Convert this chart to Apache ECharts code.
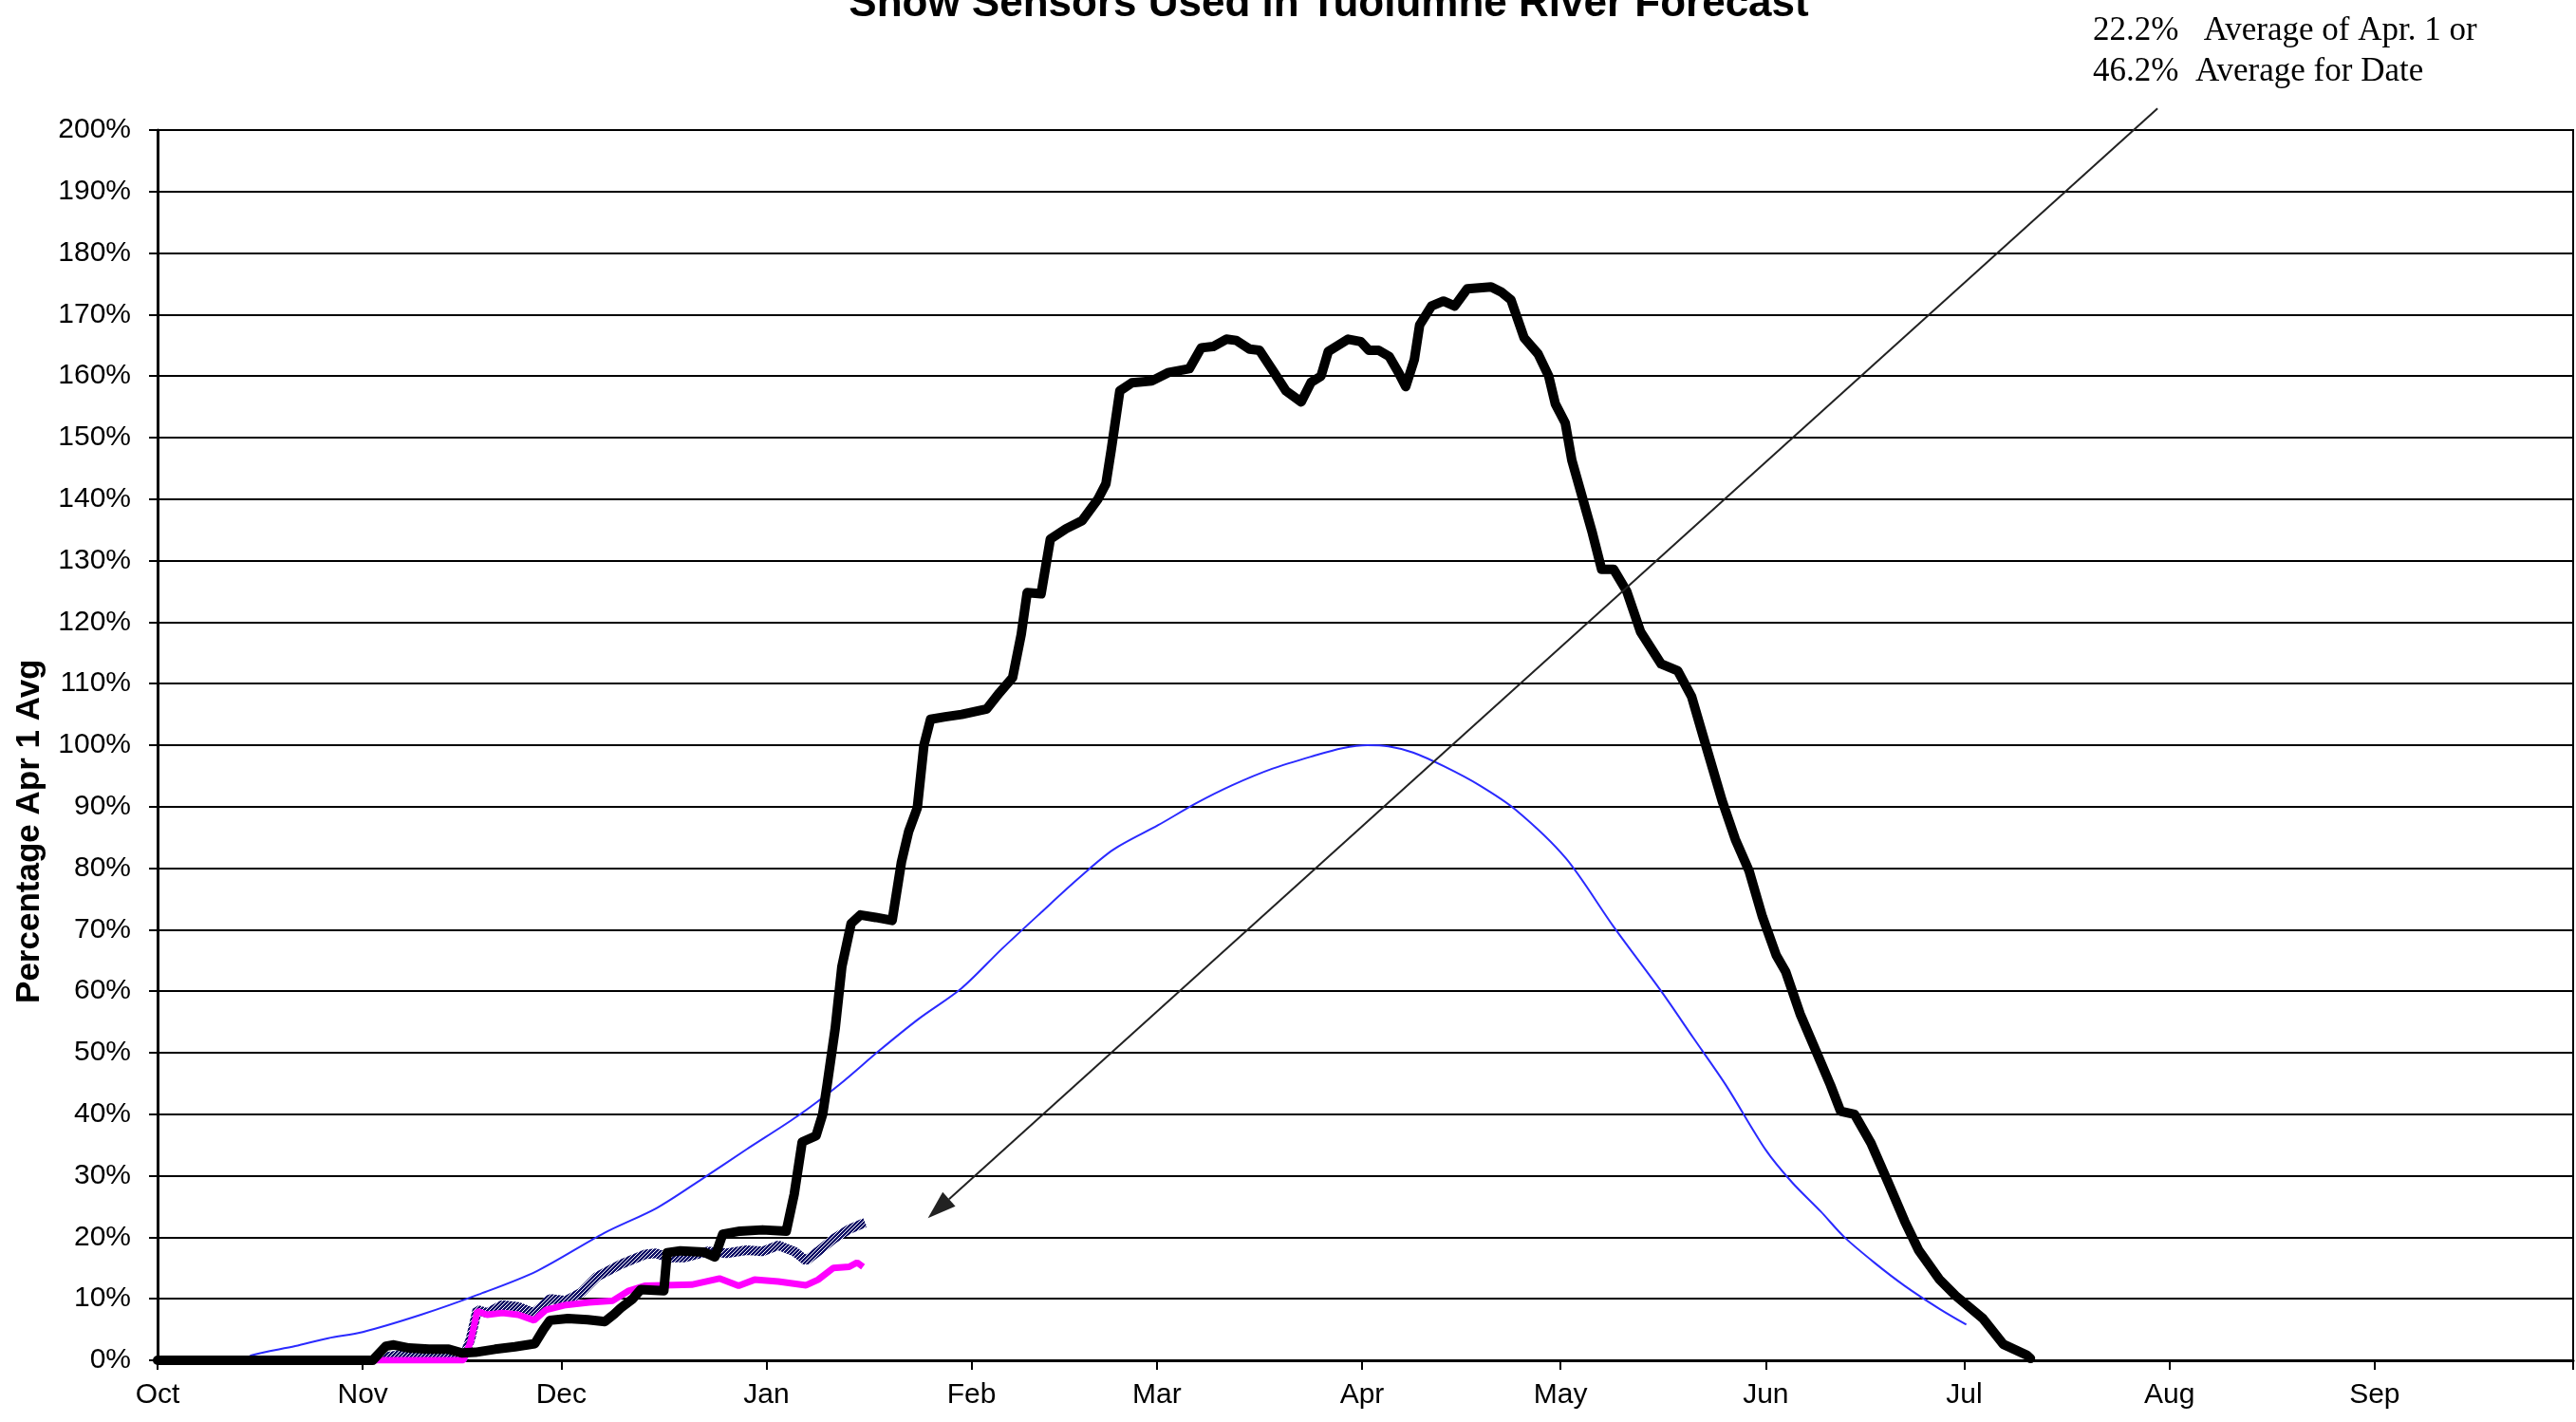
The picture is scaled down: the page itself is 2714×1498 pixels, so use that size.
<!DOCTYPE html>
<html>
<head>
<meta charset="utf-8">
<script src="https://cdn.jsdelivr.net/npm/echarts@6/dist/echarts.min.js"></script>
<style>
  html, body { margin: 0; padding: 0; background: #fff; }
  #chart { width: 2714px; height: 1498px; }
</style>
</head>
<body>
<div id="chart"></div>
<script>
// ---- Axis definitions (water year, day 0 = Oct 1) ----
const monthNames = ['Oct','Nov','Dec','Jan','Feb','Mar','Apr','May','Jun','Jul','Aug','Sep'];
const monthStartDays = [0,31,61,92,123,151,182,212,243,273,304,335,365];

// ---- Average (blue) ----
const avgDays = [13.4,14.2,20.8,25.8,31,39.8,48.5,57.3,67.5,75.5,82.3,89,96.7,103,109,115,121.5,127.5,133.5,139,144.4,151.2,157,162.4,168.5,174.8,179,182.8,186,189.7,194.5,199.7,205.2,212.8,220,227.2,232,237,243,247,251.3,254.9,259.5,264,269.2,273.3];
const avgPct  = [0,0.8,2.3,3.6,4.6,7.4,10.7,14.5,20.7,24.8,29.5,34.3,39.7,44.8,50.3,55.5,60.5,66.8,72.8,78.2,83,87,90.6,93.5,96.2,98.3,99.5,100,99.8,98.8,96.5,93.5,89.5,81.6,70.5,60,52.5,44.7,34.2,28.9,24.2,20,15.8,12.1,8.4,5.8];

// ---- Maximum year (thick black) ----
const maxDays = [0,31,32.5,34.5,35.7,38,41,44,46,48,51,54,57,58.3,59.3,62,65,67.6,69,70,71.8,73,76.5,77,79,82.5,84.2,85.4,88,91.4,95,96.2,97.4,99.5,100.5,101.2,102.4,103.4,104.8,106.2,108.5,111,112.4,113.5,114.8,115.8,116.8,119,121.5,125.3,127.2,129.2,130.5,131.4,133.5,134.9,137.3,139.7,142.1,143.3,144.1,145.4,147.2,150.2,152.8,155.9,157.7,159.5,161.5,163,165,166.5,168.7,170.5,172.8,174.3,175.8,176.9,178.4,179.9,181.8,183,184.5,186.1,187.6,188.6,189.9,190.7,192.5,194.3,196,197.9,201.5,203,204.5,206.5,208.6,210.2,211.2,212.7,213.7,215.2,216.8,218.2,220,222,224.1,227.2,229.7,231.8,233.8,236.4,238.4,240.5,242.5,244.6,246,248.2,250.7,252.8,254.3,256.4,258.9,261.5,264,266.1,269.2,271.7,275.8,278.9,282.5,283];
const maxPct  = [0,0,0,2.3,2.5,2,1.8,1.8,1.2,1.3,1.8,2.2,2.7,5,6.5,6.8,6.6,6.3,7.5,8.5,10,11.5,11.3,17.5,17.8,17.6,16.8,20.5,21,21.2,21,27,35.5,36.5,40,45,54,64,71,72.4,72,71.5,81,86,89.8,100,104.2,104.6,105,105.9,108.5,111,118,124.8,124.6,133.5,135.2,136.5,140,142.5,148,157.6,158.9,159.2,160.6,161.2,164.6,164.8,166,165.8,164.4,164.2,160.6,157.6,155.8,159,160,164,165,166,165.6,164.2,164.2,163.2,160.4,158.3,162.7,168.3,171.4,172.2,171.4,174.2,174.5,173.7,172.4,166.2,163.6,160,155.5,152.4,146.3,140.6,134.5,128.6,128.6,125,118.4,113.2,112.1,107.9,100.5,91,84.7,79.5,72.1,65.8,63.2,56.3,50,44.7,40.5,40,35.3,28.9,22.6,17.9,13.2,10.5,6.8,2.6,0.8,0.3];

// ---- Magenta series ----
const pinkDays = [33,46.2,47.3,48.3,49.8,52.1,54.5,56.9,58.7,61.7,65.2,68.8,71.2,73.6,76.5,80.7,84.9,87.8,90.2,93.8,98,99.8,102.1,104.5,105.7,106.6];
const pinkPct  = [0,0,3,8,7.4,7.7,7.4,6.5,8.2,9,9.4,9.7,11.3,12.1,12.2,12.3,13.3,12.1,13.1,12.8,12.2,13.1,15,15.2,15.9,15.2];

// ---- Hatched (navy checker) series ----
const hatchDays = [33,36,40,43,46.2,47.3,48.3,49.8,52.1,54.5,56.9,59.3,61.7,64,66.4,70,73.6,75.3,77.1,79.5,83.1,86,89,91.4,93.8,96.2,98,99.8,102.1,104.5,106.9];
const hatchPct  = [0.3,0.8,0.8,0.3,0.3,3.5,8.2,7.7,9,8.7,7.7,10,9.7,11,13.6,15.6,17.2,17.4,16.7,16.7,17.7,17.4,17.9,17.7,18.7,17.7,16.2,17.7,19.7,21.3,22.4];

// ---- Annotation arrow (data units: [day, percent]) ----
const arrowFrom = [302.2, 203.5];
const arrowTo   = [116.4, 23.1];
const titleText = 'Snow Sensors Used in Tuolumne River Forecast';
const noteText  = '22.2%   Average of Apr. 1 or\n46.2%  Average for Date';
const yAxisName = 'Percentage Apr 1 Avg';

function zip(xs, ys) { return xs.map((x, i) => [x, ys[i]]); }

// checker pattern for hatched line
const pat = document.createElement('canvas');
pat.width = 4; pat.height = 4;
const pctx = pat.getContext('2d');
pctx.fillStyle = '#ffffff'; pctx.fillRect(0, 0, 4, 4);
pctx.fillStyle = '#101066';
pctx.fillRect(0, 0, 2, 2); pctx.fillRect(2, 2, 2, 2);
pctx.fillRect(2, 0, 1, 1); pctx.fillRect(0, 2, 1, 1);
pctx.fillRect(3, 1, 1, 1); pctx.fillRect(1, 3, 1, 1);

const chart = echarts.init(document.getElementById('chart'), null, { renderer: 'canvas' });

const option = {
  animation: false,
  backgroundColor: '#fff',
  title: [
    {
      text: titleText,
      left: 1395, top: -22, textAlign: 'center',
      textStyle: { fontFamily: 'Liberation Sans', fontWeight: 'bold', fontSize: 44, color: '#000' }
    },
    {
      text: noteText,
      left: 2200, top: 6,
      textStyle: { fontFamily: 'Liberation Serif', fontWeight: 'normal', fontSize: 35, lineHeight: 43, color: '#000' }
    }
  ],
  grid: { left: 166, right: 3, top: 137, bottom: 65, show: true, borderColor: '#000', borderWidth: 2 },
  xAxis: {
    type: 'value', min: 0, max: 365,
    axisLine: { show: true, onZero: false, lineStyle: { color: '#000', width: 3 } },
    axisTick: { show: true, customValues: monthStartDays, length: 10, lineStyle: { color: '#000', width: 2 } },
    axisLabel: {
      customValues: monthStartDays.slice(0, 12),
      formatter: function (v) { const i = monthStartDays.indexOf(v); return i >= 0 && i < 12 ? monthNames[i] : ''; },
      fontFamily: 'Liberation Sans', fontSize: 30, color: '#000', margin: 22
    },
    splitLine: { show: false }
  },
  yAxis: {
    type: 'value', min: 0, max: 200, interval: 10,
    axisLine: { show: true, lineStyle: { color: '#000', width: 3 } },
    axisTick: { show: true, length: 9, lineStyle: { color: '#000', width: 2 } },
    axisLabel: { formatter: '{value}%', fontFamily: 'Liberation Sans', fontSize: 30, color: '#000', margin: 28 },
    splitLine: { show: true, lineStyle: { color: '#000', width: 2 } }
  },
  series: [
    {
      name: 'Average', type: 'line', data: zip(avgDays, avgPct), showSymbol: false, smooth: 0.3,
      lineStyle: { color: '#2a2aff', width: 2 }, silent: true, z: 3
    },
    {
      name: 'Hatched', type: 'line', data: zip(hatchDays, hatchPct), showSymbol: false,
      lineStyle: { color: { image: pat, repeat: 'repeat' }, width: 10 }, silent: true, z: 4
    },
    {
      name: 'Magenta', type: 'line', data: zip(pinkDays, pinkPct), showSymbol: false,
      lineStyle: { color: '#ff00ff', width: 7 }, silent: true, z: 5
    },
    {
      name: 'Max', type: 'line', data: zip(maxDays, maxPct), showSymbol: false, clip: false,
      lineStyle: { color: '#000', width: 10, join: 'round', cap: 'round' }, silent: true, z: 6
    }
  ]
};
chart.setOption(option);

// y-axis name and annotation arrow, positioned through the chart's own scales
const p0 = chart.convertToPixel({ gridIndex: 0 }, arrowFrom);
const p1 = chart.convertToPixel({ gridIndex: 0 }, arrowTo);
const dx = p1[0] - p0[0], dy = p1[1] - p0[1];
const len = Math.sqrt(dx * dx + dy * dy);
const ux = dx / len, uy = dy / len;
const headLen = 30, headHalf = 10;
const bx = p1[0] - ux * headLen, by = p1[1] - uy * headLen;
const gridRect = chart.getModel().getComponent('grid', 0).coordinateSystem.getRect();

chart.setOption({
  graphic: [
    {
      type: 'text', x: 31, y: gridRect.y + gridRect.height * 0.57, rotation: Math.PI / 2,
      style: { text: yAxisName, fontFamily: 'Liberation Sans', fontWeight: 'bold', fontSize: 35, fill: '#000', align: 'center', verticalAlign: 'middle' }
    },
    {
      type: 'line', silent: true, z: 10,
      shape: { x1: p0[0], y1: p0[1], x2: bx, y2: by },
      style: { stroke: '#222', lineWidth: 2 }
    },
    {
      type: 'polygon', silent: true, z: 10,
      shape: { points: [
        [p1[0], p1[1]],
        [bx - uy * headHalf, by + ux * headHalf],
        [bx + uy * headHalf, by - ux * headHalf]
      ] },
      style: { fill: '#222' }
    }
  ]
});
</script>
</body>
</html>
